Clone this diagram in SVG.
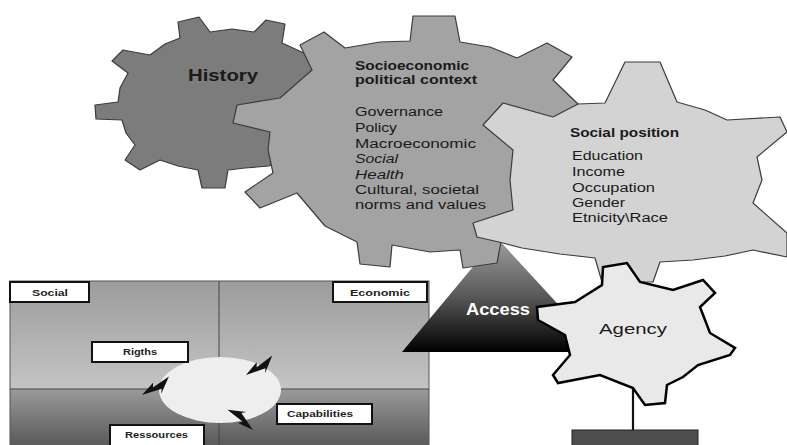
<svg xmlns="http://www.w3.org/2000/svg" width="787" height="445" viewBox="0 0 787 445">
  <defs>
    <linearGradient id="gTop" x1="0" y1="281" x2="0" y2="389" gradientUnits="userSpaceOnUse">
      <stop offset="0" stop-color="#9c9c9c"/>
      <stop offset="1" stop-color="#c4c4c4"/>
    </linearGradient>
    <linearGradient id="gBottom" x1="0" y1="389" x2="0" y2="445" gradientUnits="userSpaceOnUse">
      <stop offset="0" stop-color="#9a9a9a"/>
      <stop offset="1" stop-color="#5a5a5a"/>
    </linearGradient>
    <linearGradient id="gAccess" x1="0" y1="238" x2="0" y2="352" gradientUnits="userSpaceOnUse">
      <stop offset="0" stop-color="#a0a0a0"/>
      <stop offset="0.5" stop-color="#5a5a5a"/>
      <stop offset="1" stop-color="#000000"/>
    </linearGradient>
    <!-- lightning-style arrow, tip at origin, tail along +x -->
    <polygon id="bolt" points="0,0 15,-7 13,-2.5 32,-6.5 18,6.5 20.5,2"/>
  </defs>
  <style>
    .gear { stroke: #3c3c3c; stroke-width: 1.2; stroke-linejoin: round; }
    .txt { font-family: "Liberation Sans", Arial, sans-serif; fill: #1a1a1a; }
    .b { font-weight: bold; }
    .lbl { font-family: "Liberation Sans", Arial, sans-serif; font-weight: bold; font-size: 9.5px; fill: #222; }
    .box { fill: #ffffff; stroke: #111; stroke-width: 2; }
    .qline { stroke: #444; stroke-width: 1; }
  </style>

  <rect width="787" height="445" fill="#ffffff"/>

  <!-- quadrant panel -->
  <g id="panel">
    <rect x="10" y="281" width="209" height="108" fill="url(#gTop)"/>
    <rect x="219" y="281" width="210" height="108" fill="url(#gTop)"/>
    <rect x="10" y="389" width="209" height="60" fill="url(#gBottom)"/>
    <rect x="219" y="389" width="210" height="60" fill="url(#gBottom)"/>
    <rect x="10" y="281" width="419" height="170" fill="none" stroke="#555" stroke-width="1"/>
    <line class="qline" x1="219" y1="281" x2="219" y2="445"/>
    <line class="qline" x1="10" y1="389" x2="429" y2="389"/>
  </g>

  <g id="cycle">
    <ellipse cx="220" cy="390" rx="61" ry="33" fill="#eeeeee"/>
  </g>

  <g id="access">
    <polygon points="402,352 497,238 602,352" fill="url(#gAccess)"/>
  </g>

  <g id="history">
    <polygon class="gear" fill="#7c7c7c" points="180,38 178,22 199,17 210,32 232,29 254,32 266,20 285,24 282,43 306,54 330,80 330,130 300,150 269,166 245,168 228,170 225,188 202,188 198,170 178,166 160,160 140,170 125,160 135,145 126,133 122,120 96,119 95,105 118,102 120,88 128,73 112,61 123,50 150,55 165,44"/>
    <text class="txt b" x="188" y="81" font-size="17" textLength="70" lengthAdjust="spacingAndGlyphs">History</text>
  </g>

  <g id="socioeconomic">
    <polygon class="gear" fill="#a3a3a3" points="300,45 324,32 345,48 380,42 410,41 413,16 455,16 460,42 490,47 517,58 547,43 572,57 553,80 577,103 600,125 600,190 570,232 515,244 501,242 497,263 463,268 460,250 430,252 392,245 390,267 360,264 357,242 325,226 297,193 260,208 245,192 273,173 268,150 270,132 233,123 237,105 280,98 312,70"/>
    <g class="txt" font-size="12">
      <text class="b" x="355" y="70" textLength="114" lengthAdjust="spacingAndGlyphs">Socioeconomic</text>
      <text class="b" x="355" y="84" textLength="122" lengthAdjust="spacingAndGlyphs">political context</text>
      <text x="355" y="116" textLength="88" lengthAdjust="spacingAndGlyphs">Governance</text>
      <text x="355" y="131.5" textLength="42" lengthAdjust="spacingAndGlyphs">Policy</text>
      <text x="355" y="147.5" textLength="121" lengthAdjust="spacingAndGlyphs">Macroeconomic</text>
      <text x="355" y="163" font-style="italic" textLength="43" lengthAdjust="spacingAndGlyphs">Social</text>
      <text x="355" y="178.5" font-style="italic" textLength="49" lengthAdjust="spacingAndGlyphs">Health</text>
      <text x="355" y="194" textLength="124" lengthAdjust="spacingAndGlyphs">Cultural, societal</text>
      <text x="355" y="209" textLength="131" lengthAdjust="spacingAndGlyphs">norms and values</text>
    </g>
  </g>

  <g id="social-position">
    <polygon class="gear" fill="#d3d3d3" points="483,125 503,103 553,117 578,104 605,103 625,62 660,62 677,102 705,110 727,120 780,117 787,132 757,157 762,180 753,203 787,233 787,257 753,250 725,256 693,260 660,262 653,282 602,282 595,258 560,254 522,248 503,243 477,237 473,223 513,210 510,180 513,150"/>
    <g class="txt" font-size="12">
      <text class="b" x="570" y="137" textLength="109" lengthAdjust="spacingAndGlyphs">Social position</text>
      <text x="572" y="160" textLength="71" lengthAdjust="spacingAndGlyphs">Education</text>
      <text x="572" y="176" textLength="53" lengthAdjust="spacingAndGlyphs">Income</text>
      <text x="572" y="191.5" textLength="83" lengthAdjust="spacingAndGlyphs">Occupation</text>
      <text x="572" y="206.5" textLength="53" lengthAdjust="spacingAndGlyphs">Gender</text>
      <text x="572" y="222" textLength="96" lengthAdjust="spacingAndGlyphs">Etnicity\Race</text>
    </g>
  </g>

  <g id="connectors">
    <line x1="633" y1="388" x2="633" y2="431" stroke="#111" stroke-width="2.2"/>
    <use href="#bolt" transform="translate(246,375) rotate(-25)" fill="#111"/>
    <use href="#bolt" transform="translate(142,395) rotate(-23)" fill="#111"/>
    <use href="#bolt" transform="translate(253,430) rotate(-130)" fill="#111"/>
  </g>

  <g id="agency">
    <polygon fill="#e9e9e9" stroke="#000" stroke-width="2.5" stroke-linejoin="miter" points="537,307 575,302 602,285 603,267 627,263 640,282 673,290 703,280 715,293 700,307 710,333 735,348 730,355 698,365 683,377 667,385 665,403 645,405 633,388 600,375 558,383 553,375 570,355 565,335 538,320"/>
    <text class="txt" x="599" y="334" font-size="14" textLength="68" lengthAdjust="spacingAndGlyphs">Agency</text>
  </g>

  <text class="txt b" x="466" y="315" font-size="16" style="fill:#ffffff" textLength="64" lengthAdjust="spacingAndGlyphs">Access</text>

  <g id="base">
    <rect x="572" y="430" width="126" height="20" fill="#4e4e4e" stroke="#222" stroke-width="1"/>
  </g>

  <g id="label-social">
    <rect class="box" x="10" y="282" width="79" height="20"/>
    <text class="lbl" x="32" y="296" textLength="36" lengthAdjust="spacingAndGlyphs">Social</text>
  </g>
  <g id="label-economic">
    <rect class="box" x="333" y="282" width="94" height="20"/>
    <text class="lbl" x="350" y="296" textLength="60" lengthAdjust="spacingAndGlyphs">Economic</text>
  </g>
  <g id="label-rigths">
    <rect class="box" x="92" y="342" width="96" height="20"/>
    <text class="lbl" x="123" y="355" textLength="34" lengthAdjust="spacingAndGlyphs">Rigths</text>
  </g>
  <g id="label-capabilities">
    <rect class="box" x="277" y="404" width="95" height="20"/>
    <text class="lbl" x="287" y="417" textLength="66" lengthAdjust="spacingAndGlyphs">Capabilities</text>
  </g>
  <g id="label-ressources">
    <rect class="box" x="110" y="425" width="94" height="24"/>
    <text class="lbl" x="125" y="438" textLength="63" lengthAdjust="spacingAndGlyphs">Ressources</text>
  </g>
</svg>
